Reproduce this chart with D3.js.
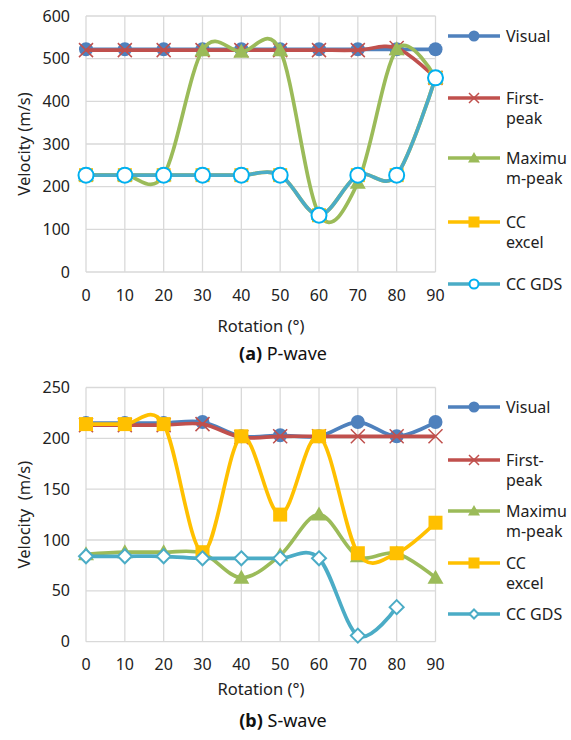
<!DOCTYPE html>
<html>
<head>
<meta charset="utf-8">
<script src="https://cdn.jsdelivr.net/npm/d3@7"></script>
<style>
  body { margin: 0; background: #fff; }
  svg { font-family: 'Noto Sans', sans-serif; }
</style>
</head>
<body>
<div class="chart"></div>
<script>
let width = 571;
let height = 740;

// rotation angles (degrees)
let rotation = [0, 10, 20, 30, 40, 50, 60, 70, 80, 90];
let seriesNames = ['Visual', 'First-peak', 'Maximum-peak', 'CC excel', 'CC GDS'];

// (a) P-wave velocities
let pVisual = [522, 522, 522, 522, 522, 522, 522, 522, 522, 522];
let pFirst = [520, 520, 520, 520, 520, 520, 520, 520, 525, 455];
let pMax = [227, 227, 227, 520, 516, 520, 136, 209, 522, 455];
let pExcel = [227, 227, 227, 227, 227, 227, 133, 227, 227, 455];
let pGds = [227, 227, 227, 227, 227, 227, 133, 227, 227, 455];
let pTicks = [0, 100, 200, 300, 400, 500, 600];

// (b) S-wave velocities
let sVisual = [215, 215, 215, 216, 202, 203, 202, 216, 202, 216];
let sFirst = [213, 213, 213, 214, 201, 202, 202, 202, 202, 202];
let sMax = [86, 88, 88, 87, 63, 85, 125, 84, 87, 63];
let sExcel = [214, 214, 214, 88, 202, 125, 202, 87, 87, 117];
let sGds = [84, 84, 84, 82, 82, 82, 82, 6, 34, null];
let sTicks = [0, 50, 100, 150, 200, 250];

let colors = ['#4f81bd', '#c0504d', '#9bbb59', '#ffc000', '#4bacc6'];

let svg = d3.select('.chart')
  .append('svg')
  .attr('width', width)
  .attr('height', height);

function marker(g, type, x, y, color, big) {
  if (type == 0) {
    g.append('circle').attr('cx', x).attr('cy', y).attr('r', big ? 7 : 5.5).attr('fill', color);
  } else if (type == 1) {
    let s = big ? 7 : 5;
    g.append('path')
      .attr('d', 'M' + (x - s) + ',' + (y - s) + 'L' + (x + s) + ',' + (y + s) + 'M' + (x - s) + ',' + (y + s) + 'L' + (x + s) + ',' + (y - s))
      .attr('stroke', color).attr('stroke-width', 1.5).attr('fill', 'none');
  } else if (type == 2) {
    let s = big ? 8 : 6;
    g.append('path')
      .attr('d', 'M' + x + ',' + (y - s) + 'L' + (x + s) + ',' + (y + s * 0.75) + 'L' + (x - s) + ',' + (y + s * 0.75) + 'Z')
      .attr('fill', color);
  } else if (type == 3) {
    let s = big ? 7 : 5.5;
    g.append('rect').attr('x', x - s).attr('y', y - s).attr('width', 2 * s).attr('height', 2 * s).attr('fill', color);
  } else if (type == 4) {
    g.append('circle').attr('cx', x).attr('cy', y).attr('r', big ? 7.5 : 4.5)
      .attr('fill', '#fff').attr('stroke', '#00b0f0').attr('stroke-width', 2);
  } else if (type == 5) {
    let s = big ? 7 : 4.5;
    g.append('path')
      .attr('d', 'M' + x + ',' + (y - s) + 'L' + (x + s) + ',' + y + 'L' + x + ',' + (y + s) + 'L' + (x - s) + ',' + y + 'Z')
      .attr('fill', '#fff').attr('stroke', '#4bacc6').attr('stroke-width', 2);
  }
}

function panel(opt) {
  let g = svg.append('g');
  let xScale = d3.scaleLinear().domain([0, 90]).range([86, 435.5]);
  let yScale = d3.scaleLinear().domain([0, opt.max]).range([opt.bottom, opt.top]);

  // grid
  g.selectAll('.hgrid').data(opt.ticks).enter().append('line')
    .attr('x1', 86).attr('x2', 435.5)
    .attr('y1', d => yScale(d)).attr('y2', d => yScale(d))
    .attr('stroke', '#d9d9d9').attr('stroke-width', 1.3);
  g.selectAll('.vgrid').data(rotation).enter().append('line')
    .attr('x1', d => xScale(d)).attr('x2', d => xScale(d))
    .attr('y1', yScale(0)).attr('y2', yScale(opt.max))
    .attr('stroke', '#d9d9d9').attr('stroke-width', 1.3);

  // tick labels
  g.selectAll('.ylab').data(opt.ticks).enter().append('text')
    .attr('x', 70).attr('y', d => yScale(d)).attr('dy', '0.35em')
    .attr('text-anchor', 'end').style('font-size', '16px').attr('fill', '#222')
    .text(d => d);
  g.selectAll('.xlab').data(rotation).enter().append('text')
    .attr('x', d => xScale(d)).attr('y', opt.bottom + 23).attr('dy', '0.35em')
    .attr('text-anchor', 'middle').style('font-size', '16px').attr('fill', '#222')
    .text(d => d);

  // axis titles
  g.append('text')
    .attr('transform', 'translate(24,' + ((opt.top + opt.bottom) / 2) + ') rotate(-90)')
    .attr('text-anchor', 'middle').attr('dy', '0.35em')
    .style('font-size', '16.5px').style('white-space', 'pre').attr('fill', '#222')
    .text(opt.ytitle);
  g.append('text')
    .attr('x', 261).attr('y', opt.xtitleY).attr('dy', '0.35em')
    .attr('text-anchor', 'middle').style('font-size', '16.5px').attr('fill', '#222')
    .text('Rotation (°)');

  // caption
  let cap = g.append('text')
    .attr('x', 283).attr('y', opt.captionY).attr('dy', '0.35em')
    .attr('text-anchor', 'middle').style('font-size', '18px').attr('fill', '#111');
  cap.append('tspan').style('font-weight', 'bold').text(opt.capLabel);
  cap.append('tspan').text(' ' + opt.capText);

  let line = d3.line()
    .defined(d => d != null)
    .x((d, i) => xScale(rotation[i]))
    .y(d => yScale(d))
    .curve(d3.curveCardinal.tension(0));

  opt.series.forEach((vals, k) => {
    g.append('path')
      .attr('d', line(vals))
      .attr('fill', 'none')
      .attr('stroke', colors[k])
      .attr('stroke-width', 3.7)
      .attr('stroke-linejoin', 'round');
    let mg = g.append('g');
    vals.forEach((v, i) => {
      if (v == null) return;
      marker(mg, opt.markers[k], xScale(rotation[i]), yScale(v), colors[k], true);
    });
  });

  // legend
  let lg = g.append('g');
  opt.legendY.forEach((ly, k) => {
    lg.append('line').attr('x1', 448).attr('x2', 500).attr('y1', ly).attr('y2', ly)
      .attr('stroke', colors[k]).attr('stroke-width', 3.7);
    marker(lg, opt.markers[k], 474, ly, colors[k], false);
    opt.legendText[k].forEach((t, j) => {
      lg.append('text')
        .attr('x', 506).attr('y', ly + j * 20).attr('dy', '0.35em')
        .style('font-size', '16px').attr('fill', '#222')
        .text(t);
    });
  });
}

let legendText = [['Visual'], ['First-', 'peak'], ['Maximu', 'm-peak'], ['CC', 'excel'], ['CC GDS']];

panel({
  top: 16, bottom: 272, max: 600, ticks: pTicks,
  series: [pVisual, pFirst, pMax, pExcel, pGds],
  markers: [0, 1, 2, 3, 4],
  ytitle: 'Velocity (m/s)',
  xtitleY: 326, captionY: 354,
  capLabel: '(a)', capText: 'P-wave',
  legendY: [36, 98, 158, 222, 284],
  legendText: legendText
});

panel({
  top: 387.5, bottom: 641.7, max: 250, ticks: sTicks,
  series: [sVisual, sFirst, sMax, sExcel, sGds],
  markers: [0, 1, 2, 3, 5],
  ytitle: 'Velocity  (m/s)',
  xtitleY: 689, captionY: 721,
  capLabel: '(b)', capText: 'S-wave',
  legendY: [407, 460, 511, 563, 614],
  legendText: legendText
});
</script>
</body>
</html>
